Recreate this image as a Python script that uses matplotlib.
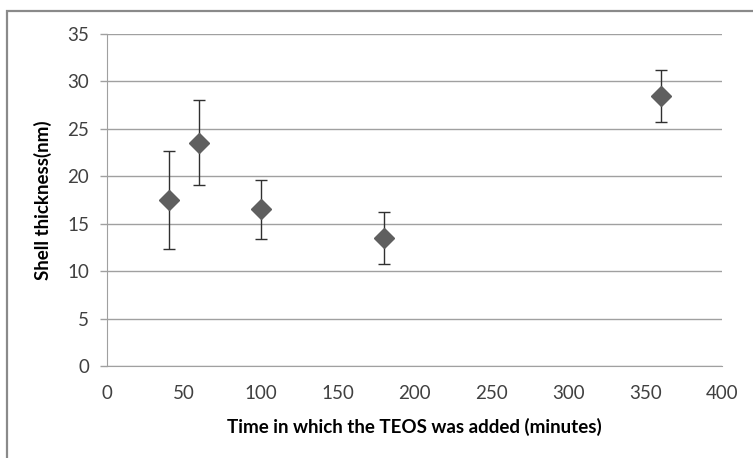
import matplotlib.pyplot as plt
from matplotlib.patches import Rectangle

# data
time_min = [40, 60, 100, 180, 360]
shell_nm = [17.5, 23.5, 16.5, 13.5, 28.5]
err_low = [12.3, 19.1, 13.4, 10.8, 25.7]
err_high = [22.7, 28.0, 19.6, 16.2, 31.2]

x_ticks = [0, 50, 100, 150, 200, 250, 300, 350, 400]
y_ticks = [0, 5, 10, 15, 20, 25, 30, 35]

plt.rcParams['font.family'] = ['Lato', 'DejaVu Sans']

W, H = 753, 458
fig = plt.figure(figsize=(W / 100, H / 100), dpi=100)

# plot area in pixels: left 107, right 722, top 34, bottom 366
ax = fig.add_axes([107 / W, 1 - 366 / H, (722 - 107) / W, (366 - 34) / H])

yerr = [[s - lo for s, lo in zip(shell_nm, err_low)],
        [hi - s for s, hi in zip(shell_nm, err_high)]]

ax.errorbar(time_min, shell_nm, yerr=yerr, fmt='none', ecolor='#303030',
            elinewidth=1.0, capsize=4, capthick=1.0, zorder=3)
ax.plot(time_min, shell_nm, linestyle='none', marker='D', markersize=10,
        color='#5f5f5f', markeredgecolor='#5f5f5f', zorder=4)

ax.set_xlim(0, 400)
ax.set_ylim(0, 35)
ax.set_xticks(x_ticks)
ax.set_yticks(y_ticks)

ax.grid(axis='y', color='#a0a0a0', linewidth=1.0)
ax.set_axisbelow(True)

for s in ['top', 'right']:
    ax.spines[s].set_visible(False)
ax.spines['left'].set_color('#a0a0a0')
ax.spines['bottom'].set_color('#a0a0a0')

ax.tick_params(axis='y', length=5, width=1, color='#a0a0a0', pad=8,
               labelsize=13.5, labelcolor='#404040')
ax.tick_params(axis='x', length=0, pad=14, labelsize=13.5, labelcolor='#404040')

ax.set_xlabel('Time in which the TEOS was added (minutes)', fontsize=13.5,
              fontweight='bold', labelpad=11)
ax.set_ylabel('Shell thickness(nm)', fontsize=13.5, fontweight='bold',
              labelpad=11)

# outer chart border (cut off at right and bottom)
fig.patches.append(Rectangle((7 / W, -0.1), 1.2, 1 - 11 / H + 0.1,
                             transform=fig.transFigure, fill=False,
                             edgecolor='#8a8a8a', linewidth=1.6))

fig.savefig('out.png', dpi=100)
